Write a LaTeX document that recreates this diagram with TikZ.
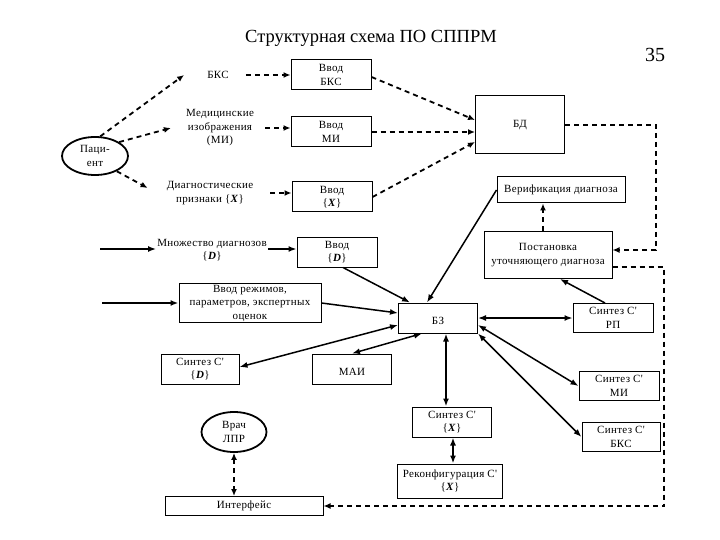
\documentclass[tikz,border=0pt]{standalone}
\usepackage{fontspec}
\setmainfont{Liberation Serif}
\newfontfamily\shrift[LetterSpace=3]{Liberation Serif}
\usetikzlibrary{arrows.meta,shapes.geometric}

\newcommand{\mnX}{\{\textbf{\textit{X}}\}}
\newcommand{\mnD}{\{\textbf{\textit{D}}\}}

\tikzset{
	blok/.style={draw, line width=1pt, minimum width=80pt, minimum height=30pt, inner sep=1pt, align=center, font=\shrift\fontsize{11}{13.5}\selectfont},
	tekst/.style={align=center, inner sep=1pt, font=\shrift\fontsize{11}{13.5}\selectfont},
	oval/.style={draw, ellipse, line width=1.8pt, inner sep=0pt, align=center, font=\shrift\fontsize{11}{13.5}\selectfont},
	shtrih/.style={line width=1.8pt, dash pattern=on 5pt off 4pt, -{Latex[length=7pt,width=6pt]}},
	shtrihd/.style={shtrih, {Latex[length=7pt,width=6pt]}-{Latex[length=7pt,width=6pt]}},
	strelka/.style={line width=1.5pt, -{Latex[length=8pt,width=6pt]}},
	strelkad/.style={strelka, {Latex[length=8pt,width=6pt]}-{Latex[length=8pt,width=6pt]}},
}

\begin{document}
\begin{tikzpicture}[x=1pt, y=-1pt]
	\useasboundingbox (0,0) rectangle (720,540);
	
	%%%%% START %%%%%
	
	\node (zag) at (371,38) {\fontsize{18.5}{20}\selectfont Структурная схема ПО СППРМ};
	\node (nomer) at (655,55) {\fontsize{20}{22}\selectfont 35};
	
	\node[oval, minimum width=66pt, minimum height=38pt] (pac) at (95,156) {Паци-\\ент};
	\node[tekst] (bks) at (218,75) {БКС};
	\node[tekst] (mi) at (220,128) {Медицинские\\изображения\\(МИ)};
	\node[tekst] (dx) at (210,193) {Диагностические\\признаки \mnX};
	
	\node[blok] (vbks) at (331,75) {Ввод\\БКС};
	\node[blok] (vmi) at (331,132) {Ввод\\МИ};
	\node[blok] (vx) at (332,197) {Ввод\\\mnX};
	
	\node[blok, minimum width=89pt, minimum height=58pt] (bd) at (520,125) {БД};
	\node[blok, minimum width=128pt, minimum height=26pt] (ver) at (561,190) {Верификация диагноза};
	\node[blok, minimum width=128pt, minimum height=47pt] (post) at (548,255) {Постановка\\уточняющего диагноза};
	
	\node[tekst] (mnd) at (212,250) {Множество диагнозов\\\mnD};
	\node[blok] (vd) at (337,252) {Ввод\\\mnD};
	\node[blok, minimum width=142pt, minimum height=38pt] (vrp) at (250,303) {Ввод режимов,\\параметров, экспертных\\оценок};
	\coordinate (m0) at (100,249);
	\coordinate (r0) at (102,303);
	
	\node[blok, minimum width=79pt] (bz) at (438,318) {~\\БЗ};
	\node[blok, minimum width=78pt] (sd) at (200,369) {Синтез С'\\\mnD};
	\node[blok, minimum width=79pt] (mai) at (352,369) {~\\МАИ};
	
	\node[oval, minimum width=65pt, minimum height=40pt] (vrach) at (234,432) {Врач\\ЛПР};
	\node[blok, minimum width=158pt, minimum height=19pt] (intf) at (244,506) {Интерфейс};
	
	\node[blok, minimum width=79pt] (sx) at (452,422) {Синтез С'\\\mnX};
	\node[blok, minimum width=105pt, minimum height=34pt] (rx) at (450,481) {Реконфигурация С'\\\mnX};
	
	\node[blok, minimum height=29pt] (srp) at (613,318) {Синтез С'\\РП};
	\node[blok, minimum height=29pt] (smi) at (619,386) {Синтез С'\\МИ};
	\node[blok, minimum width=78pt, minimum height=29pt] (sbks) at (621,437) {Синтез С'\\БКС};
	
	\coordinate (c1) at (656,250);
	\coordinate (c2) at (664,506);
	
	% patient inputs
	\draw[shtrih] (pac.75) -- ([xshift=-22pt]bks.west);
	\draw[shtrih] (pac.30) -- ([xshift=-14pt]mi.west);
	\draw[shtrih] (pac.-35) -- ([xshift=-18pt,yshift=5pt]dx.west);
	
	\draw[shtrih, shorten <=16pt] (bks.east) -- (vbks.west);
	\draw[shtrih, shorten <=10pt] (mi.east) -- (mi.east -| vmi.west);
	\draw[shtrih, shorten <=16pt] (dx.east) -- (dx.east -| vx.west);
	
	\draw[shtrih] ([yshift=-2pt]vbks.east) -- ([yshift=5pt]bd.west);
	\draw[shtrih] (vmi.east) -- (vmi.east -| bd.west);
	\draw[shtrih] (vx.east) -- ([yshift=-17pt]bd.west);
	
	% БД and Постановка loops
	\draw[shtrih] (bd.east) -| (c1) -- (c1 -| post.east);
	\draw[shtrih] ([xshift=-5pt]post.north) -- ([xshift=-5pt]post.north |- ver.south);
	\draw[shtrih] ([yshift=-12pt]post.east) -| (c2) -- (intf.east);
	
	% into БЗ
	\draw[strelka, line width=2.2pt] (m0) -- (m0 -| mnd.west);
	\draw[strelka] ([yshift=1pt]mnd.east) -- ([yshift=1pt]mnd.east -| vd.west);
	\draw[strelka, line width=2.2pt] (r0) -- (vrp.west);
	\draw[strelka] (ver.west) -- ([xshift=-11pt]bz.north);
	\draw[strelka] ([xshift=6pt]vd.south) -- ([xshift=-28pt]bz.north);
	\draw[strelka] (vrp.east) -- ([yshift=5pt]bz.west);
	
	% БЗ links
	\draw[strelkad] ([yshift=-7pt]bz.west) -- ([yshift=2pt]sd.east);
	\draw[strelkad] ([xshift=-16pt]bz.south) -- (mai.north);
	\draw[strelkad] (bz.east) -- (srp.west);
	\draw[strelkad] ([yshift=-7pt]bz.east) -- (smi.west);
	\draw[strelkad] (bz.south east) -- (sbks.west);
	\draw[strelkad, line width=2.2pt] ([xshift=8pt]bz.south) -- ([xshift=-6pt]sx.north);
	\draw[strelkad, line width=2.2pt] ([xshift=1pt]sx.south) -- ([xshift=3pt]rx.north);
	\draw[strelka] ([xshift=-8pt]srp.north) -- ([xshift=12pt]post.south);
	
	\draw[shtrihd] (vrach.south) -- (vrach.south |- intf.north);
	
	%%%%% END %%%%%
\end{tikzpicture}
\end{document}
